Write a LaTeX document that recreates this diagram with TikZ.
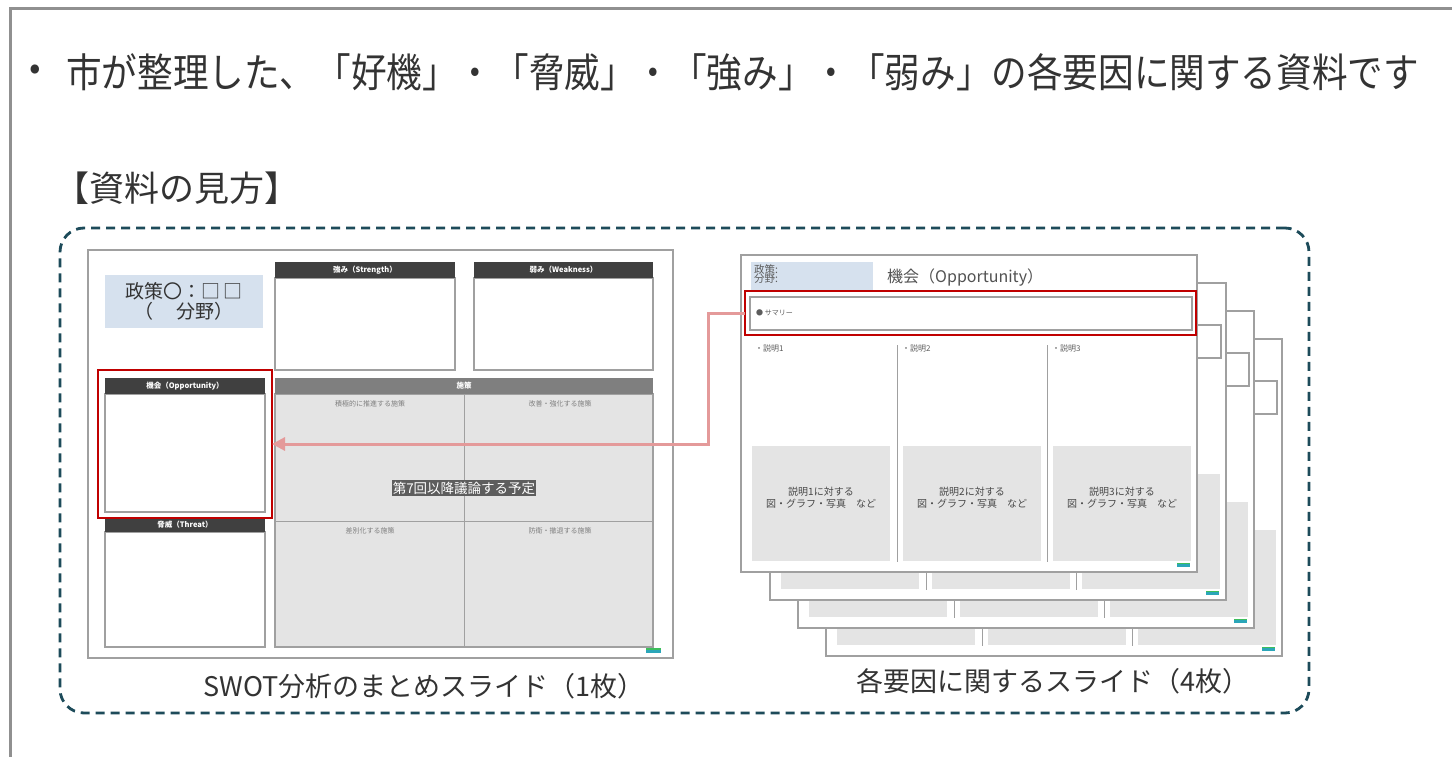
\documentclass[tikz,border=0pt]{standalone}
\usepackage{fontspec}
\setmainfont{Noto Sans CJK JP}
\newfontfamily\titlefont{Noto Sans CJK JP}[FakeStretch=0.89]
\usetikzlibrary{arrows.meta}
\definecolor{framegray}{HTML}{A0A0A0}
\definecolor{dashteal}{HTML}{1D4B5A}
\definecolor{hdrdark}{HTML}{404040}
\definecolor{hdrmid}{HTML}{7F7F7F}
\definecolor{cellgray}{HTML}{E4E4E4}
\definecolor{lightblue}{HTML}{D6E1EE}
\definecolor{hired}{HTML}{C00000}
\definecolor{pinkarrow}{HTML}{E49A9A}
\definecolor{txtdark}{HTML}{333333}
\definecolor{markteal}{HTML}{2BA6B9}
\definecolor{markgreen}{HTML}{3DBE5C}
\tikzset{
  rectnode/.style={rectangle, inner sep=0pt, outer sep=0pt, anchor=north west},
  slideframe/.style={rectnode, draw=framegray, line width=2.2pt, fill=white},
  boxbody/.style={rectnode, draw=framegray, line width=1.2pt, fill=white},
  hdr/.style={rectnode, fill=hdrdark},
  hdrm/.style={rectnode, fill=hdrmid},
  cellbody/.style={rectnode, draw=framegray, line width=1.2pt, fill=cellgray},
  bluebox/.style={rectnode, fill=lightblue},
  redbox/.style={rectnode, draw=hired, line width=2.6pt},
  hdrtext/.style={text=white, font=\fontsize{7.5}{8}\selectfont\bfseries, inner sep=0pt},
  celltext/.style={text=gray, font=\fontsize{7}{8}\selectfont, inner sep=0pt},
  divider/.style={draw=framegray, line width=1pt},
  imgbox/.style={rectnode, fill=cellgray},
  imgtext/.style={text=txtdark!90, font=\fontsize{10}{12}\selectfont, align=center, inner sep=0pt},
  smalltext/.style={text=txtdark!80, font=\fontsize{8}{9}\selectfont, inner sep=0pt, anchor=west},
  captext/.style={text=txtdark, font=\fontsize{27}{29}\selectfont, inner sep=0pt},
}
% rectangle as named node: name, x1, y1, x2, y2, style
\newcommand\rectat[6]{\node[#6, minimum width={(#4)-(#2)}, minimum height={(#5)-(#3)}] (#1) at (#2,#3) {};}
% right-side slide: suffix, dx, dy
\newcommand\rslide[3]{%
\begin{scope}[shift={(#2,#3)}]
  \rectat{rs#1}{0}{0}{456}{317}{slideframe}
  \rectat{rb#1}{10}{7}{132}{37}{bluebox}
  \node[smalltext, font=\fontsize{10.5}{11}\selectfont, align=left, anchor=north west] (rbt#1) at (13,9) {政策:\\[-2pt]分野:};
  \node[anchor=west, inner sep=0pt, text=txtdark!85, font=\fontsize{16}{17}\selectfont] (rtitle#1) at (146,23) {機会（Opportunity）};
  \rectat{rsum#1}{9}{42}{451}{75}{boxbody}
  \node[smalltext, font=\fontsize{7}{8}\selectfont] (rsumt#1) at (15,58) {● サマリー};
  \node[smalltext] (rb1#1) at (14,93) {・説明1};
  \node[smalltext] (rb2#1) at (161,93) {・説明2};
  \node[smalltext] (rb3#1) at (311,93) {・説明3};
  \coordinate (rd1a#1) at (156,90); \coordinate (rd1b#1) at (156,307);
  \coordinate (rd2a#1) at (306,90); \coordinate (rd2b#1) at (306,307);
  \draw[divider] (rd1a#1) -- (rd1b#1);
  \draw[divider] (rd2a#1) -- (rd2b#1);
  \rectat{ri1#1}{11}{191}{149}{306}{imgbox}
  \rectat{ri2#1}{162}{191}{300}{306}{imgbox}
  \rectat{ri3#1}{312}{191}{450}{306}{imgbox}
  \rectat{rmk#1}{436}{309}{449}{312}{rectnode, fill=markteal}
  \rectat{rmg#1}{436}{308}{449}{309}{rectnode, fill=markgreen}
\end{scope}}
\begin{document}
\begin{tikzpicture}[x=1pt,y=-1pt]
\useasboundingbox (0,0) rectangle (1452,757);
\fill[white] (0,0) rectangle (1452,757);
% outer frame (top and left only)
\coordinate (ftr) at (1452,9);
\coordinate (ftl) at (10,9);
\coordinate (fbl) at (10,757);
\draw[color=framegray!90!black, line width=3pt] (ftr) -- (ftl) -- (fbl);
% title
\node[anchor=west, inner sep=0pt, text=txtdark, font=\fontsize{34}{36}\selectfont] (bullet) at (29,72) {•};
\node[anchor=west, inner sep=0pt, text=txtdark, font=\titlefont\fontsize{40}{42}\selectfont] (title) at (66,72) {市が整理した、「好機」・「脅威」・「強み」・「弱み」の各要因に関する資料です};
\node[anchor=west, inner sep=0pt, text=txtdark, font=\fontsize{35}{37}\selectfont] (howto) at (54,188) {【資料の見方】};
% dashed container
\node[rectnode, draw=dashteal, line width=2.8pt, dash pattern=on 9pt off 6pt, rounded corners=24pt, minimum width=1249pt, minimum height=485pt] (container) at (60,228) {};
% ---------- left SWOT slide ----------
\rectat{swot}{88}{250}{673}{658}{slideframe}
\rectat{pol}{105}{275}{263}{328}{bluebox}
\node[text=txtdark, font=\fontsize{19}{20}\selectfont, align=center, inner sep=0pt] (polt) at (pol.center) {政策〇：□\,□\\（　\,分野）};
% Strength
\rectat{sbody}{275}{278}{455}{370}{boxbody}
\rectat{shdr}{275}{262}{455}{278}{hdr}
\node[hdrtext] (shdrt) at (shdr.center) {強み（Strength）};
% Weakness
\rectat{wbody}{474}{278}{653}{370}{boxbody}
\rectat{whdr}{474}{262}{653}{278}{hdr}
\node[hdrtext] (whdrt) at (whdr.center) {弱み（Weakness）};
% Opportunity
\rectat{obody}{105}{394}{265}{512}{boxbody}
\rectat{ohdr}{105}{378}{265}{394}{hdr}
\node[hdrtext] (ohdrt) at (ohdr.center) {機会（Opportunity）};
% Threat
\rectat{tbody}{105}{532}{265}{647}{boxbody}
\rectat{thdr}{105}{517}{265}{532}{hdr}
\node[hdrtext] (thdrt) at (thdr.center) {脅威（Threat）};
% Measures
\rectat{mbody}{275}{394}{653}{647}{cellbody}
\rectat{mhdr}{275}{378}{653}{394}{hdrm}
\node[hdrtext] (mhdrt) at (mhdr.center) {施策};
\coordinate (mvt) at (464,394); \coordinate (mvb) at (464,647);
\coordinate (mhl) at (275,521); \coordinate (mhr) at (653,521);
\draw[divider] (mvt) -- (mvb);
\draw[divider] (mhl) -- (mhr);
\node[celltext] (c1) at (370,404) {積極的に推進する施策};
\node[celltext] (c2) at (560,404) {改善・強化する施策};
\node[celltext] (c3) at (370,531) {差別化する施策};
\node[celltext] (c4) at (560,531) {防衛・撤退する施策};
\node[fill=hdrdark!85, text=white, font=\fontsize{13.5}{15}\selectfont, inner xsep=1pt, inner ysep=2pt] (later) at (464,488) {第7回以降議論する予定};
\rectat{lmk}{646}{650}{661}{653}{rectnode, fill=markteal}
\rectat{lmg}{646}{648}{661}{650}{rectnode, fill=markgreen}
% red highlight on opportunity
\rectat{redL}{98}{370}{272}{518}{redbox}
% ---------- right stack of slides ----------
\rslide{d}{826}{339}
\rslide{c}{798}{311}
\rslide{b}{770}{283}
\rslide{a}{741}{255}
\node[imgtext] (rit1) at ([yshift=6pt]ri1a.center) {説明1に対する\\図・グラフ・写真　など};
\node[imgtext] (rit2) at ([yshift=6pt]ri2a.center) {説明2に対する\\図・グラフ・写真　など};
\node[imgtext] (rit3) at ([yshift=6pt]ri3a.center) {説明3に対する\\図・グラフ・写真　など};
\rectat{redR}{745}{291}{1196}{335}{redbox}
% arrow
\draw[pinkarrow, line width=3pt, -{Triangle[length=13pt, width=13pt]}] (redR.west) -- ++(-37,0) |- (redL.east);
% captions
\node[captext] (cap1) at (424,686) {SWOT分析のまとめスライド（1枚）};
\node[captext] (cap2) at (1053,681) {各要因に関するスライド（4枚）};
\end{tikzpicture}
\end{document}
